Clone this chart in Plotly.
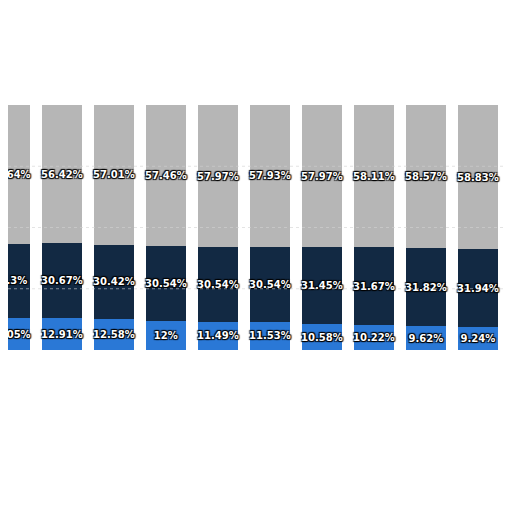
import plotly.graph_objects as go

periods = ['P1', 'P2', 'P3', 'P4', 'P5', 'P6', 'P7', 'P8', 'P9', 'P10', 'P11']
blue = [13.05, 12.91, 12.58, 12.0, 11.49, 11.53, 10.58, 10.22, 9.62, 9.24, 9.0]
navy = [30.3, 30.67, 30.42, 30.54, 30.54, 30.54, 31.45, 31.67, 31.82, 31.94, 32.0]
gray = [56.64, 56.42, 57.01, 57.46, 57.97, 57.93, 57.97, 58.11, 58.57, 58.83, 59.0]


def fmt(v):
    return f'{v:g}%'


fig = go.Figure()
for vals, col in [(blue, '#2a78d6'), (navy, '#122943'), (gray, '#b6b6b6')]:
    labels = [fmt(v) for v in vals]
    labels[-1] = ''  # last bar is cut off at the edge
    fig.add_trace(go.Bar(
        x=list(range(len(periods))), y=vals, marker_color=col,
        marker_line_width=0, width=0.77,
        text=labels, textposition='inside',
        insidetextanchor='middle', textangle=0,
        textfont=dict(family='DejaVu Sans', size=10, color='white', weight='bold',
                      shadow='1px 1px 1px black, -1px -1px 1px black, 1px -1px 1px black, -1px 1px 1px black'),
    ))

for g in [25, 50, 75]:
    fig.add_shape(type='line', xref='paper', x0=0, x1=1, y0=g, y1=g,
                  line=dict(color='rgba(210,210,210,0.6)', width=1, dash='dot'),
                  layer='above')

fig.update_layout(
    barmode='stack', showlegend=False, width=512, height=512,
    margin=dict(l=0, r=0, t=97, b=170),
    plot_bgcolor='white', paper_bgcolor='white',
    uniformtext=dict(minsize=10, mode='show'),
    xaxis=dict(range=[-0.035, 9.81], visible=False),
    yaxis=dict(range=[0, 100], visible=False),
)
fig.write_html('out.html')
